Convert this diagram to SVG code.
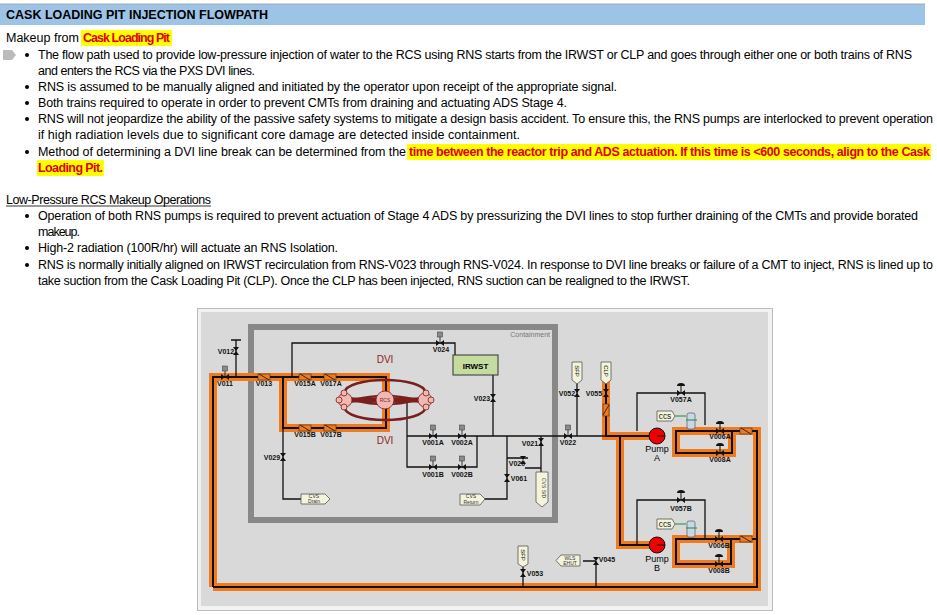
<svg xmlns="http://www.w3.org/2000/svg" width="937" height="615" viewBox="0 0 937 615">
<style>
.t{font-family:"Liberation Sans",Arial,sans-serif;font-size:12.5px;fill:#000}
.b{font-weight:bold;fill:#e00000}
.l{font-family:"Liberation Sans",Arial,sans-serif;font-size:7px;font-weight:bold;fill:#111;text-anchor:middle}
.p{font-family:"Liberation Sans",Arial,sans-serif;font-size:9px;fill:#000;text-anchor:middle}
.dvi{font-family:"Liberation Sans",Arial,sans-serif;font-size:10px;fill:#8b2222;text-anchor:middle}
.og{fill:none;stroke:#f07a1c;stroke-width:8;stroke-linejoin:miter}
.ob{fill:none;stroke:#111;stroke-width:2}
.k{fill:none;stroke:#111;stroke-width:1.3}
.tag{fill:#f4f4dc;stroke:#555;stroke-width:0.8}
.tt{font-family:"Liberation Sans",Arial,sans-serif;font-size:5px;fill:#333;text-anchor:middle}
</style>
<defs>
<g id="vh"><path d="M-4,-3 L4,3 L4,-3 L-4,3 Z" fill="#111"/></g>
<g id="vv"><path d="M-3,-4 L3,4 L-3,4 L3,-4 Z" fill="#111"/></g>
<g id="op"><rect x="-2.5" y="-11" width="5" height="5" fill="#8a8a8a" stroke="#333" stroke-width="0.5"/><line x1="0" y1="-6" x2="0" y2="0" stroke="#111" stroke-width="0.8"/></g>
<g id="ck"><rect x="-6" y="-3" width="12" height="6" fill="#f07a1c" stroke="#333" stroke-width="0.6"/><line x1="-5" y1="-3" x2="5" y2="3" stroke="#111" stroke-width="0.8"/></g>
<g id="man"><path d="M-4,-7 A4,3 0 0 1 4,-7 Z" fill="#111"/><line x1="0" y1="-7" x2="0" y2="0" stroke="#111"/></g>
</defs>
<rect width="937" height="615" fill="#fff"/>
<g id="text">
<rect x="0" y="4" width="925" height="21" fill="#9dc3e6"/>
<line x1="0" y1="4" x2="925" y2="4" stroke="#aaa"/>
<text class="t" x="6" y="19" font-weight="bold" font-size="10.5">CASK LOADING PIT INJECTION FLOWPATH</text>
<text class="t" x="6" y="42">Makeup from </text>
<rect x="81" y="30" width="91" height="16" fill="#ffff00"/>
<text class="t b" x="83" y="42" textLength="87">Cask Loading Pit</text>
<path d="M3,50 H12 L16,55 L12,60 H3 Z" fill="#bbb"/>
<g>
<circle cx="27" cy="55" r="2"/><circle cx="27" cy="87" r="2"/><circle cx="27" cy="103" r="2"/><circle cx="27" cy="119" r="2"/><circle cx="27" cy="152" r="2"/>
<circle cx="27" cy="216" r="2"/><circle cx="27" cy="248" r="2"/><circle cx="27" cy="265" r="2"/>
</g>
<text class="t" x="38" y="59" textLength="874">The flow path used to provide low-pressure injection of water to the RCS using RNS starts from the IRWST or CLP and goes through either one or both trains of RNS</text>
<text class="t" x="38" y="75" textLength="217">and enters the RCS via the PXS DVI lines.</text>
<text class="t" x="38" y="91" textLength="579">RNS is assumed to be manually aligned and initiated by the operator upon receipt of the appropriate signal.</text>
<text class="t" x="38" y="107" textLength="529">Both trains required to operate in order to prevent CMTs from draining and actuating ADS Stage 4.</text>
<text class="t" x="38" y="123" textLength="895">RNS will not jeopardize the ability of the passive safety systems to mitigate a design basis accident. To ensure this, the RNS pumps are interlocked to prevent operation</text>
<text class="t" x="38" y="139" textLength="482">if high radiation levels due to significant core damage are detected inside containment.</text>
<text class="t" x="38" y="156" textLength="368">Method of determining a DVI line break can be determined from the</text>
<rect x="407" y="144" width="524" height="16" fill="#ffff00"/>
<rect x="37" y="160" width="67" height="16" fill="#ffff00"/>
<text class="t b" x="409" y="156" textLength="521">time between the reactor trip and ADS actuation.  If this time is &lt;600 seconds, align to the Cask</text>
<text class="t b" x="38" y="172" textLength="65">Loading Pit.</text>
<text class="t" x="6" y="204" textLength="205">Low-Pressure RCS Makeup Operations</text>
<line x1="6" y1="206" x2="211" y2="206" stroke="#000" stroke-width="0.8"/>
<text class="t" x="38" y="220" textLength="880">Operation of both RNS pumps is required to prevent actuation of Stage 4 ADS by pressurizing the DVI lines to stop further draining of the CMTs and provide borated</text>
<text class="t" x="38" y="236" textLength="42">makeup.</text>
<text class="t" x="38" y="252" textLength="300">High-2 radiation (100R/hr) will actuate an RNS Isolation.</text>
<text class="t" x="38" y="269" textLength="895">RNS is normally initially aligned on IRWST recirculation from RNS-V023 through RNS-V024. In response to DVI line breaks or failure of a CMT to inject, RNS is lined up to</text>
<text class="t" x="38" y="285" textLength="652">take suction from the Cask Loading Pit (CLP). Once the CLP has been injected, RNS suction can be realigned to the IRWST.</text>
</g>
<g id="panel">
<rect x="197.5" y="308.5" width="575" height="302" fill="#f2f2f2" stroke="#bbb"/>
<rect x="201" y="312" width="567" height="294" fill="#d9d9d9"/>
<rect x="251" y="327" width="304" height="193" fill="none" stroke="#888" stroke-width="6"/>
<text x="550" y="337" font-family="Liberation Sans,sans-serif" font-size="7" fill="#777" text-anchor="end">Containment</text>
</g>
<g id="connectors">
<path class="og" d="M213,587 V377 H386 V428 H283 V377"/>
<path class="og" d="M213,587 H757 V431 H676 V453 H732 V431"/>
<path class="og" d="M757,539 H676 V564 H731 V539"/>
<path class="og" d="M606,380 V436 H657 M620,436 V545 H657"/>
<path class="ob" d="M213,587 V377 H386 V428 H283 V377"/>
<path class="ob" d="M213,587 H757 V431 H676 V453 H732 V431"/>
<path class="ob" d="M757,539 H676 V564 H731 V539"/>
<path class="ob" d="M606,380 V436 H657 M620,436 V545 H657"/>
<path class="k" d="M236,340 V377 M231,340 H241"/>
<path class="k" d="M292,377 V343 H455 V355"/>
<path class="k" d="M493,375 V436 M407,402 V467 H477 V436 M407,436 H606"/>
<path class="k" d="M507,436 V499 H484 M507,458 H528 M541,436 V475 M525,468 H541"/>
<path class="k" d="M283,428 V499 H301"/>
<path class="k" d="M577,383 V436"/>
<path class="k" d="M637,431 V393 H705 V425"/>
<path class="k" d="M637,545 V500 H705 V538"/>
<path class="k" d="M523,566 V587 M583,561 H596 M596,561 V587"/>
</g>
<g id="rcs">
<ellipse cx="385" cy="392" rx="40" ry="12" fill="none" stroke="#7a1f1f" stroke-width="2.5"/>
<ellipse cx="385" cy="408" rx="40" ry="12" fill="none" stroke="#7a1f1f" stroke-width="2.5"/>
<line x1="348" y1="400" x2="422" y2="400" stroke="#7a1f1f" stroke-width="5"/>
<g fill="#f0b8b0" stroke="#7a1f1f" stroke-width="0.8">
<circle cx="345" cy="400" r="7"/><circle cx="425" cy="400" r="7"/>
<circle cx="344" cy="393" r="3"/><circle cx="344" cy="407" r="3"/><circle cx="426" cy="393" r="3"/><circle cx="426" cy="407" r="3"/><circle cx="339" cy="400" r="3"/><circle cx="431" cy="400" r="3"/>
<circle cx="385" cy="400" r="9"/>
</g>
<text x="385" y="402" font-family="Liberation Sans,sans-serif" font-size="5" fill="#7a1f1f" text-anchor="middle">RCS</text>
<text class="dvi" x="385" y="363">DVI</text>
<text class="dvi" x="385" y="444">DVI</text>
</g>
<g id="irwst"><rect x="453" y="355" width="45" height="20" fill="#c5dca0" stroke="#333"/><text x="475.5" y="369" font-family="Liberation Sans,sans-serif" font-size="8" font-weight="bold" text-anchor="middle">IRWST</text></g>
<g id="valves">
<use href="#vv" x="236" y="351"/><text class="l" x="226" y="354">V012</text>
<use href="#vh" x="225" y="377"/><use href="#op" x="225" y="377"/><text class="l" x="225" y="386">V011</text>
<use href="#ck" x="264" y="377"/><text class="l" x="264" y="386">V013</text>
<use href="#ck" x="305" y="377"/><text class="l" x="305" y="386">V015A</text>
<use href="#ck" x="330" y="377"/><text class="l" x="331" y="386">V017A</text>
<use href="#ck" x="305" y="428"/><text class="l" x="305" y="437">V015B</text>
<use href="#ck" x="330" y="428"/><text class="l" x="331" y="437">V017B</text>
<use href="#vh" x="440" y="343"/><use href="#op" x="440" y="343"/><text class="l" x="441" y="352">V024</text>
<use href="#vv" x="493" y="398"/><text class="l" x="482" y="401">V023</text>
<use href="#vh" x="433" y="436"/><use href="#op" x="433" y="436"/><text class="l" x="433" y="445">V001A</text>
<use href="#vh" x="462" y="436"/><use href="#op" x="462" y="436"/><text class="l" x="462" y="445">V002A</text>
<use href="#vh" x="433" y="467"/><use href="#op" x="433" y="467"/><text class="l" x="433" y="477">V001B</text>
<use href="#vh" x="462" y="467"/><use href="#op" x="462" y="467"/><text class="l" x="462" y="477">V002B</text>
<use href="#vv" x="541" y="442"/><text class="l" x="530" y="446">V021</text>
<use href="#vv" x="523" y="460"/><text class="l" x="517" y="466">V020</text>
<use href="#vv" x="507" y="478"/><text class="l" x="519" y="481">V061</text>
<use href="#vh" x="568" y="436"/><use href="#op" x="568" y="436"/><text class="l" x="568" y="445">V022</text>
<use href="#vv" x="283" y="457"/><text class="l" x="272" y="460">V029</text>
<use href="#vv" x="577" y="393"/><text class="l" x="567" y="396">V052</text>
<use href="#vv" x="606" y="393"/><text class="l" x="594" y="396">V055</text>
<use href="#ck" x="606" y="410" transform="rotate(90 606 410)"/>
<use href="#vh" x="681" y="393"/><use href="#man" x="681" y="393"/><text class="l" x="681" y="402">V057A</text>
<use href="#vh" x="720" y="431"/><use href="#man" x="720" y="431"/><text class="l" x="720" y="439">V006A</text>
<use href="#vh" x="720" y="453"/><use href="#man" x="720" y="453"/><text class="l" x="720" y="462">V008A</text>
<use href="#vh" x="681" y="500"/><use href="#man" x="681" y="500"/><text class="l" x="681" y="511">V057B</text>
<use href="#vh" x="719" y="539"/><use href="#man" x="719" y="539"/><text class="l" x="719" y="548">V006B</text>
<use href="#vh" x="719" y="564"/><use href="#man" x="719" y="564"/><text class="l" x="719" y="573">V008B</text>
<use href="#ck" x="746" y="431"/><use href="#ck" x="746" y="539"/>
<use href="#vv" x="523" y="573"/><text class="l" x="535" y="576">V053</text>
<use href="#vv" x="596" y="561"/><text class="l" x="607" y="562">V045</text>
</g>
<g id="pumps">
<circle cx="657" cy="436" r="8" fill="#ee0000" stroke="#111"/><line x1="657" y1="436" x2="665" y2="436" stroke="#111"/>
<text class="p" x="657" y="452">Pump</text><text class="p" x="657" y="461">A</text>
<circle cx="657" cy="545" r="8" fill="#ee0000" stroke="#111"/><line x1="657" y1="545" x2="665" y2="545" stroke="#111"/>
<text class="p" x="657" y="562">Pump</text><text class="p" x="657" y="571">B</text>
<rect x="687" y="413" width="8" height="16" rx="2" fill="#c8d8e8" stroke="#444" stroke-width="0.6"/>
<rect x="687" y="521" width="8" height="16" rx="2" fill="#c8d8e8" stroke="#444" stroke-width="0.6"/>
</g>
<g id="tags">
<g id="ccsA"><path class="tag" d="M657,411 H672 L675,416 L672,421 H657 Z"/><text x="665" y="418.5" font-family="Liberation Mono,monospace" font-size="7" text-anchor="middle">CCS</text><path d="M675,416 H686 M697,420 H686" stroke="#1a8a3a" stroke-width="1"/></g>
<g id="ccsB"><path class="tag" d="M657,519 H672 L675,524 L672,529 H657 Z"/><text x="665" y="526.5" font-family="Liberation Mono,monospace" font-size="7" text-anchor="middle">CCS</text><path d="M675,524 H686 M697,528 H686" stroke="#1a8a3a" stroke-width="1"/></g>
<g id="sfp1"><path class="tag" d="M572,362 H582 V380 L577,384 L572,380 Z"/><text transform="translate(577,371) rotate(90)" font-family="Liberation Sans,sans-serif" font-size="6" text-anchor="middle" dy="2">SFP</text></g>
<g id="clp"><path class="tag" d="M601,362 H611 V380 L606,384 L601,380 Z"/><text transform="translate(606,371) rotate(90)" font-family="Liberation Sans,sans-serif" font-size="6" text-anchor="middle" dy="2">CLP</text></g>
<g id="sfp2"><path class="tag" d="M518,546 H528 V564 L523,567 L518,564 Z"/><text transform="translate(523,555) rotate(90)" font-family="Liberation Sans,sans-serif" font-size="6" text-anchor="middle" dy="2">SFP</text></g>
<g id="cvsd"><path class="tag" d="M301,494 H325 L330,499 L325,504 H301 Z"/><text class="tt" x="314" y="498">CVS</text><text class="tt" x="314" y="503">Drain</text></g>
<g id="cvsr"><path class="tag" d="M460,494 H480 L485,499 L480,505 H460 Z"/><text class="tt" x="471" y="498">CVS</text><text class="tt" x="471" y="504">Return</text></g>
<g id="cvsb"><path class="tag" d="M536,472 H548 V502 L542,507 L536,502 Z"/><text transform="translate(542,488) rotate(90)" class="tt">CVS S/D</text></g>
<g id="wls"><path class="tag" d="M561,555 H580 V566 H561 L556,560.5 Z"/><text class="tt" x="570" y="559.5">WLS</text><text class="tt" x="570" y="564.5">EHUT</text></g>
</g>
</svg>
